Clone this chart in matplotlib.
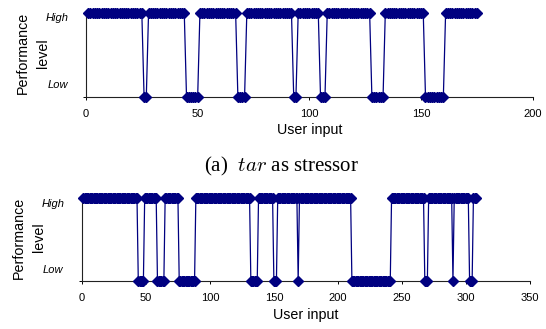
"""Performance level over user input, two stressor runs."""

import matplotlib

matplotlib.use("Agg")
import matplotlib.pyplot as plt
import numpy as np

FIG_W, FIG_H = 546, 329
NAVY = "#000080"

# one character per user input (starting at input 1): H = high, L = low
TAR_LEVELS = (
    "HHHHHHHHHHHHHHHHHHHHHHHHH"  # 1-25
    "LL"  # 26-27
    "HHHHHHHHHHHHHHHHH"  # 28-44
    "LLLLLL"  # 45-50
    "HHHHHHHHHHHHHHHHH"  # 51-67
    "LLLL"  # 68-71
    "HHHHHHHHHHHHHHHHHHHHH"  # 72-92
    "LL"  # 93-94
    "HHHHHHHHHH"  # 95-104
    "LLL"  # 105-107
    "HHHHHHHHHHHHHHHHHHHH"  # 108-127
    "LLLLLL"  # 128-133
    "HHHHHHHHHHHHHHHHHH"  # 134-151
    "LLLLLLLLL"  # 152-160
    "HHHHHHHHHHHHHHH"  # 161-175
)

SECOND_LEVELS = (
    "HHHHHHHHHHHHHHHHHHHHHHHHHHHHHHHHHHHHHHHHHHH"  # 1-43
    "LLLLL"  # 44-48
    "HHHHHHHHHH"  # 49-58
    "LLLLLL"  # 59-64
    "HHHHHHHHHHH"  # 65-75
    "LLLLLLLLLLLLL"  # 76-88
    "HHHHHHHHHHHHHHHHHHHHHHHHHHHHHHHHHHHHHHHHHHH"  # 89-131
    "LLLLLL"  # 132-137
    "HHHHHHHHHHHH"  # 138-149
    "LLL"  # 150-152
    "HHHHHHHHHHHHHHHH"  # 153-168
    "L"  # 169
    "HHHHHHHHHHHHHHHHHHHHHHHHHHHHHHHHHHHHHHHHH"  # 170-210
    "LLLLLLLLLLLLLLLLLLLLLLLLLLLLLLL"  # 211-241
    "HHHHHHHHHHHHHHHHHHHHHHHHHH"  # 242-267
    "LLL"  # 268-270
    "HHHHHHHHHHHHHHHHHHH"  # 271-289
    "L"  # 290
    "HHHHHHHHHHHH"  # 291-302
    "LLL"  # 303-305
    "HHH"  # 306-308
)

LEVEL_VALUES = {"H": 1, "L": 0}
LEVEL_NAMES = ["Low", "High"]

TAR_XTICKS = [0, 50, 100, 150, 200]
SECOND_XTICKS = [0, 50, 100, 150, 200, 250, 300, 350]

plt.rcParams["font.family"] = ["Liberation Sans", "DejaVu Sans"]
plt.rcParams["mathtext.fontset"] = "cm"


def fx(px):
    return px / FIG_W


def fy(py):
    return 1 - py / FIG_H


def draw_panel(fig, box, levels, xticks, label_x, level_label_y, xlabel_y, ylabel_xs):
    left, top, right, bottom = box
    ax = fig.add_axes([fx(left), fy(bottom), (right - left) / FIG_W, (bottom - top) / FIG_H])
    x = np.arange(1, len(levels) + 1)
    y = np.array([LEVEL_VALUES[c] for c in levels])
    ax.plot(
        x,
        y,
        color=NAVY,
        lw=0.9,
        marker="D",
        ms=5.0,
        mew=1.0,
        mec=NAVY,
        mfc=NAVY,
        clip_on=False,
        zorder=3,
    )
    ax.set_xlim(xticks[0], xticks[-1])
    ax.set_ylim(0, 1)
    ax.set_xticks(xticks)
    ax.set_yticks([0, 1])
    ax.set_yticklabels([])
    for side in ["top", "right"]:
        ax.spines[side].set_visible(False)
    for side in ["left", "bottom"]:
        ax.spines[side].set_linewidth(0.8)
        ax.spines[side].set_color("#222222")
    ax.tick_params(axis="x", direction="out", length=2.5, width=0.7, pad=6.5, labelsize=8)
    ax.tick_params(axis="y", direction="out", length=2.5, width=0.7)

    # level names sit left of the axis, nudged inward like the original
    for name, py in zip(LEVEL_NAMES, level_label_y):
        fig.text(fx(label_x), fy(py), name, ha="center", va="center", fontsize=8, style="italic")
    mid_y = (top + bottom) / 2 - 2
    for word, px in zip(["Performance", "level"], ylabel_xs):
        fig.text(fx(px), fy(mid_y), word, rotation=90, ha="center", va="center", fontsize=10.3)
    fig.text(fx((left + right) / 2), fy(xlabel_y), "User input", ha="center", va="center", fontsize=10.3)
    return ax


def main():
    assert len(TAR_LEVELS) == 175, len(TAR_LEVELS)
    assert len(SECOND_LEVELS) == 308, len(SECOND_LEVELS)
    fig = plt.figure(figsize=(FIG_W / 100, FIG_H / 100), dpi=100)
    draw_panel(fig, (86, 13.3, 532.7, 96.7), TAR_LEVELS, TAR_XTICKS, 57.5, (85, 18), 130, (23, 43))
    fig.text(
        fx(281),
        fy(166),
        r"(a)  $tar$ as stressor",
        ha="center",
        va="center",
        family="Liberation Serif",
        fontsize=15,
    )
    draw_panel(fig, (82, 198.3, 529.7, 280.7), SECOND_LEVELS, SECOND_XTICKS, 53, (270, 204), 315, (19, 39))
    fig.savefig("out.png", dpi=100)
    plt.close(fig)


if __name__ == "__main__":
    main()
